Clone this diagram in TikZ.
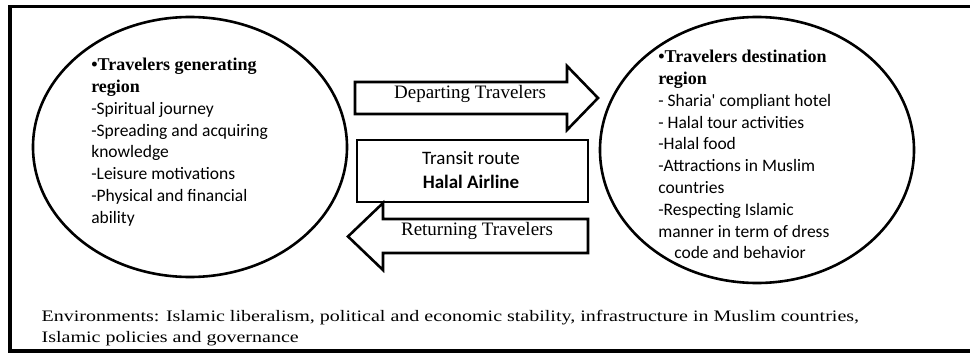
\documentclass[tikz,border=0pt]{standalone}
\usepackage{fontspec}
\setmainfont{Liberation Serif}
\newfontfamily\calib{Carlito}
\usepackage{tikz}
\newcommand\hdline[1]{{\rmfamily\bfseries\fontsize{18}{21.6}\selectfont #1}}

\begin{document}
\begin{tikzpicture}[x=1pt,y=-1pt,line width=2.6pt,
  txt/.style={align=left,inner sep=0pt,font=\calib\fontsize{17.5}{21.8}\selectfont},
  lbl/.style={inner sep=0pt,font=\fontsize{19}{22}\selectfont}]
  \useasboundingbox (0,0) rectangle (970,356);
  \draw[line width=3.2pt] (10,6.5) rectangle (985,351);
  \draw (190,147) ellipse (157 and 130);
  \draw (757,150) ellipse (157 and 133);
  % arrows and route box
  \draw (355,82) -- (567,82) -- (567,66) -- (598,98) -- (567,130) -- (567,114) -- (355,114) -- cycle;
  \draw (357,140) rectangle (588,202);
  \draw (588,219) -- (383,219) -- (383,203) -- (348,236.5) -- (383,270) -- (383,253) -- (588,253) -- cycle;
  \node[lbl] (depart) at (470,94) {Departing Travelers};
  \node[txt,anchor=center,align=center,font=\calib\fontsize{19}{24}\selectfont] (route) at (471,170) {Transit route\\\textbf{Halal Airline}};
  \node[lbl] (return) at (477,231) {Returning Travelers};
  % region texts
  \node[txt,anchor=north west] (gen) at (90,57) {\hdline{•Travelers generating}\\\hdline{region}\\
    -Spiritual journey\\-Spreading and acquiring\\knowledge\\-Leisure motivations\\-Physical and financial\\ability};
  \node[txt,anchor=north west] (dest) at (657,49) {\hdline{•Travelers destination}\\\hdline{region}\\
    - Sharia' compliant hotel\\- Halal tour activities\\-Halal food\\-Attractions in Muslim\\countries\\-Respecting Islamic\\manner in term of dress\\\hspace*{16pt}code and behavior};
  \node[anchor=north west,align=left,inner sep=0pt,xscale=1.25,transform shape,font=\fontsize{16}{21}\selectfont] (env) at (40,309)
    {Environments: Islamic liberalism, political and economic stability, infrastructure in Muslim countries,\\Islamic policies and governance};
\end{tikzpicture}
\end{document}
